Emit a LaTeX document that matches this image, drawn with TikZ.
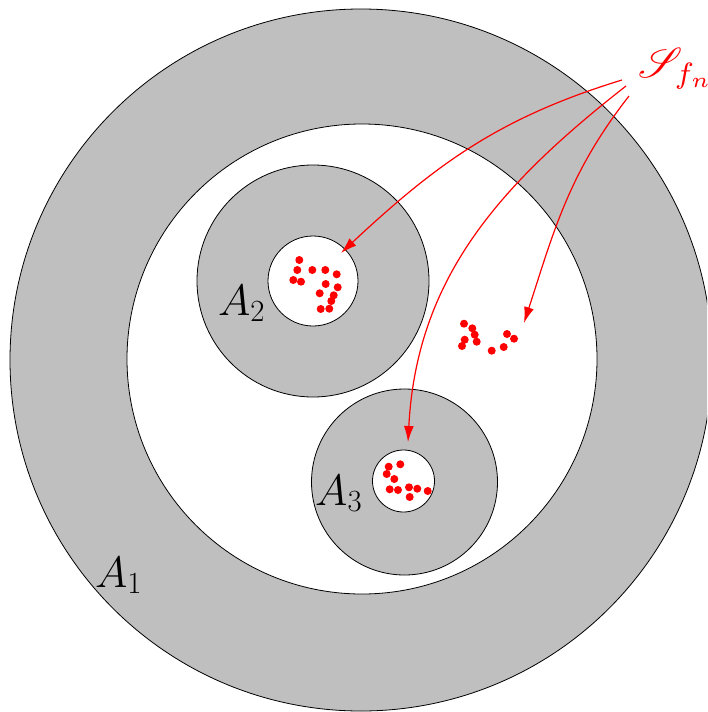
\RequirePackage{fix-cm}
\documentclass[tikz,border=0pt]{standalone}
\usepackage{mathrsfs}
\usepackage{graphicx}
\usetikzlibrary{arrows.meta}
\begin{document}
\begin{tikzpicture}[x=1pt,y=-1pt,
  ring/.style={draw=black,line width=0.8pt,fill=lightgray},
  hole/.style={draw=black,line width=0.8pt,fill=white},
  dot/.style={fill=red,draw=none},
  arr/.style={draw=red,line width=1.2pt,-{Latex[length=16pt,width=10pt]}},
  lab/.style={anchor=base west,inner sep=0pt,font=\fontsize{44}{50}\selectfont}]
\useasboundingbox (0,0) rectangle (707,712);
\begin{scope}
\clip (0,0) rectangle (707,712);
\fill[ring] (361,360) circle[radius=351];
\end{scope}
\fill[hole] (362,359) circle[radius=235];
\fill[ring] (313,281) circle[radius=116];
\fill[hole] (313,281) circle[radius=45];
\fill[ring] (404.5,482) circle[radius=93];
\fill[hole] (403.5,481) circle[radius=31];
% dots
\foreach \p in {(299.3,260),(297.3,270),(293.3,280),(301,281.7),(312.3,270),(325.3,270),(336.7,274.3),(325.7,284),(337.7,287.3),(319.7,293.3),(333.7,295.3),(331.3,301),(329.3,308.7),(320.7,309),
(464,323.7),(472.3,328.3),(474.7,334.7),(464.7,339.7),(462,346),(476.7,341.7),(491.7,350.7),(503.7,347),(507,334),(514,338.7),
(388.7,466.7),(400.3,464.3),(386.7,474),(394.3,479),(389.7,489.3),(398,490),(409,487.3),(417.3,488.7),(427.7,491),(409.7,497)}
  \fill[dot] \p circle[radius=4];
% labels
\node[lab] (a1) at (95,587) {$A_1$};
\node[lab] (a2) at (218,315) {$A_2$};
\node[lab] (a3) at (315,505) {$A_3$};
\node[anchor=base west,inner sep=0pt,text=red] (s) at (638,77) {\scalebox{4.2}{$\mathscr{S}_{f_n}$}};
% arrows
\coordinate (s1) at (622,80);
\coordinate (s2) at (626,86);
\coordinate (s3) at (629,96);
\coordinate (e1) at (341,253);
\coordinate (e2) at (408,442);
\coordinate (e3) at (524,323);
\draw[arr] (s1) to[out=197,in=43] (e1);
\draw[arr] (s2) to[out=218,in=87] (e2);
\draw[arr] (s3) to[out=232,in=72] (e3);
\end{tikzpicture}
\end{document}
